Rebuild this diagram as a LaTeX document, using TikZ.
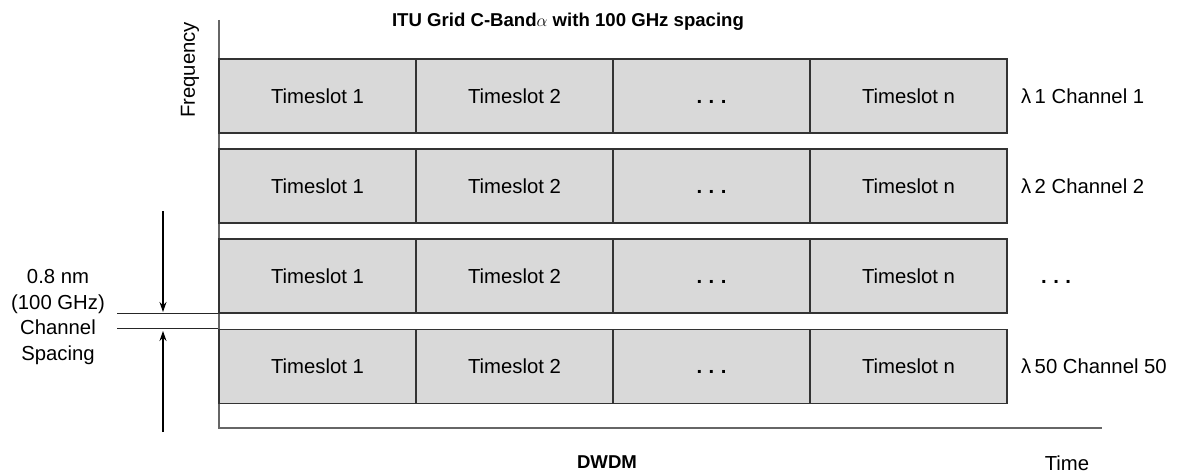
\documentclass[tikz,border=0pt]{standalone}
\usepackage{fontspec}
\setmainfont{Liberation Sans}
\usetikzlibrary{arrows.meta}
\newcommand{\mydots}{\textbf{.\hspace{6.5pt}.\hspace{6.5pt}.}}
\begin{document}
\begin{tikzpicture}[x=1pt,y=-1pt,
  slot/.style={draw=black!80,fill=black!15,line width=1.2pt,minimum width=197pt,minimum height=74pt,inner sep=0pt,text height=14.5pt,text depth=0pt,font=\fontsize{20.3}{24}\selectfont},
  axis/.style={draw=black!60,line width=1.4pt},
  lbl/.style={font=\fontsize{20.3}{24}\selectfont,inner sep=0pt},
  arr/.style={draw=black,line width=1.1pt,-{Stealth[length=10pt,width=7pt]}}]
\useasboundingbox (0,0) rectangle (1182,473);
% axes
\coordinate (ytop) at (219,20);
\coordinate (orig) at (219,428);
\coordinate (xend) at (1102,428);
\draw[axis] (ytop) -- (orig) -- (xend);
% rows
\foreach \r/\y/\lab in {1/96/{λ\,1 Channel 1},2/186/{λ\,2 Channel 2},3/276/{\hspace{20pt}\mydots},4/366.5/{λ\,50 Channel 50}}{
  \node[slot] (s\r a) at (317.5,\y) {Timeslot 1};
  \node[slot] (s\r b) at (514.5,\y) {Timeslot 2};
  \node[slot] (s\r c) at (711.5,\y) {\mydots};
  \node[slot] (s\r d) at (908.5,\y) {Timeslot n};
  \node[lbl,anchor=west,text height=14.5pt,text depth=0pt] (ch\r) at (1021,\y) {\lab};
}
% spacing marker
\path (s3a.south west) ++(-101,0) coordinate (l1);
\path (s4a.north west) ++(-101,0) coordinate (l2);
\draw[black!85,line width=1.1pt] (l1) -- (s3a.south west);
\draw[black!85,line width=1.1pt] (l2) -- (s4a.north west);
\coordinate (a1s) at (163,211);
\coordinate (a1e) at (163,312);
\coordinate (a2s) at (163,432);
\coordinate (a2e) at (163,331);
\draw[arr] (a1s) -- (a1e);
\draw[arr] (a2s) -- (a2e);
\node[lbl,align=center,font=\fontsize{20.3}{25.5}\selectfont] (sp) at (58,317) {0.8 nm\\(100 GHz)\\Channel\\Spacing};
% labels
\node[lbl,rotate=90] (freq) at (190,70) {Frequency};
\node[lbl,font=\fontsize{18.6}{22}\selectfont\bfseries] (title) at (568,22) {ITU Grid C-Band$\alpha$ with 100 GHz spacing};
\node[lbl,font=\fontsize{18.6}{22}\selectfont\bfseries] (dwdm) at (607,462) {DWDM};
\node[lbl] (time) at (1067,463) {Time};
\end{tikzpicture}
\end{document}
